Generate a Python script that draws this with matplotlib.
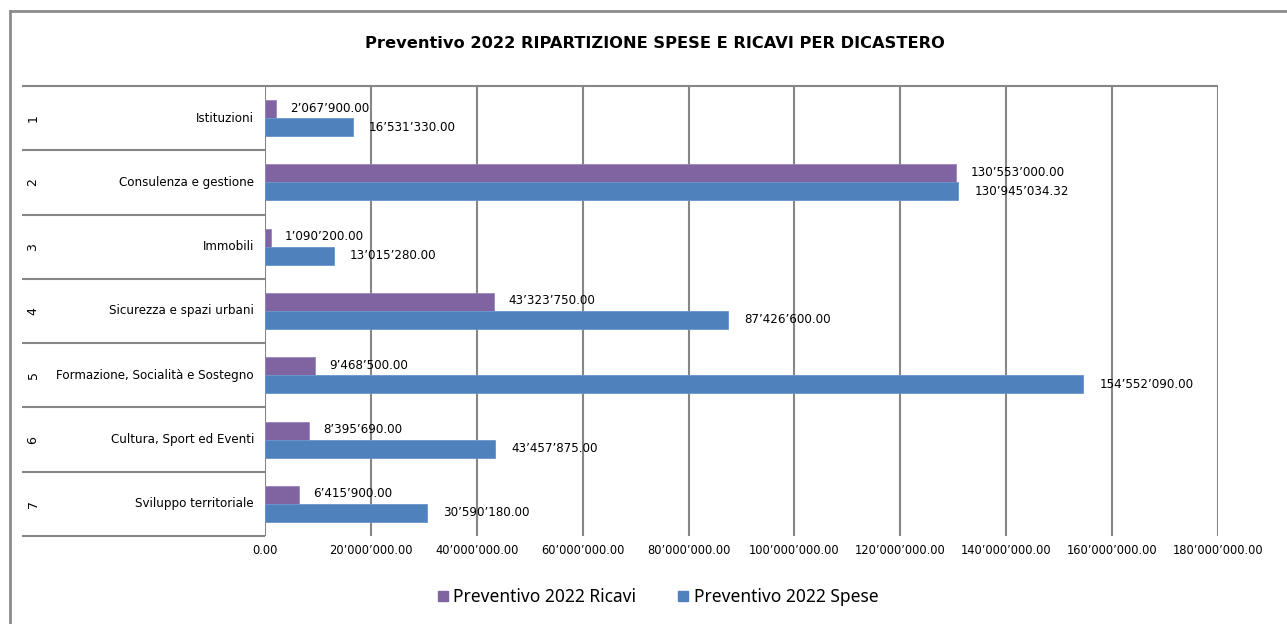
import matplotlib
matplotlib.use("Agg")
import matplotlib.pyplot as plt
from matplotlib.lines import Line2D

# ---------------- data ----------------
numbers = ["1", "2", "3", "4", "5", "6", "7"]
categories = ["Istituzioni", "Consulenza e gestione", "Immobili",
              "Sicurezza e spazi urbani", "Formazione, Socialità e Sostegno",
              "Cultura, Sport ed Eventi", "Sviluppo territoriale"]
ricavi = [2067900.00, 130553000.00, 1090200.00, 43323750.00, 9468500.00,
          8395690.00, 6415900.00]
spese = [16531330.00, 130945034.32, 13015280.00, 87426600.00, 154552090.00,
         43457875.00, 30590180.00]
series_names = ["Preventivo 2022 Ricavi", "Preventivo 2022 Spese"]
xticks = [0, 20e6, 40e6, 60e6, 80e6, 100e6, 120e6, 140e6, 160e6, 180e6]
title = "Preventivo 2022 RIPARTIZIONE SPESE E RICAVI PER DICASTERO"

# ---------------- style ----------------
C_RIC = "#8064A2"
C_SPE = "#4F81BD"
GRID = "#868686"
FONT = ["DejaVu Sans"]
LEGFONT = ["Noto Sans", "DejaVu Sans"]

W, H = 1287, 624
fig = plt.figure(figsize=(W / 100, H / 100), dpi=100)
fig.patch.set_facecolor("white")

def fx(px):
    return px / W

def fy(py):
    return 1 - py / H

L, R, T, B = 265, 1218, 86, 536
ax = fig.add_axes([fx(L), fy(B), fx(R) - fx(L), fy(T) - fy(B)])

def fmt(v):
    return f"{v:,.2f}".replace(",", "\u2019")

n = len(categories)
pos = list(range(n))
h = 0.28
ax.barh([p - h / 2 for p in pos], ricavi, height=h, color=C_RIC,
        edgecolor="#9A86B8", linewidth=0.6, zorder=3)
ax.barh([p + h / 2 for p in pos], spese, height=h, color=C_SPE,
        edgecolor="#6A96CC", linewidth=0.6, zorder=3)

NUMSIZE = 8.6
for p, v in zip(pos, ricavi):
    ax.annotate(fmt(v), (v, p - h / 2), xytext=(14, 1), textcoords="offset pixels",
                ha="left", va="center", fontsize=NUMSIZE, family=FONT, color="black")
for p, v in zip(pos, spese):
    ax.annotate(fmt(v), (v, p + h / 2), xytext=(16, 0), textcoords="offset pixels",
                ha="left", va="center", fontsize=NUMSIZE, family=FONT, color="black")

ax.set_xlim(0, 180e6)
ax.set_ylim(n - 0.5, -0.5)
ax.set_yticks([])
ax.set_xticks(xticks)
ax.set_xticklabels([fmt(t) for t in xticks], fontsize=8.3, family=FONT)
ax.tick_params(axis="x", length=0, pad=6)
for s in ax.spines.values():
    s.set_visible(False)
ax.set_facecolor("none")

for t in xticks:
    ax.axvline(t, color=GRID, linewidth=1.5, zorder=1)

# multi-level category labels area
ytr = ax.get_yaxis_transform()  # x: axes, y: data
axw = R - L
def ax_x(px):
    return (px - L) / axw

for k in range(n + 1):
    y = k - 0.5
    xend = 1.0 if k == 0 else 0.0
    ax.plot([ax_x(22), xend], [y, y], transform=ytr, color=GRID,
            linewidth=1.5, clip_on=False, zorder=2, solid_capstyle="butt")

for p, num, cat in zip(pos, numbers, categories):
    ax.text(ax_x(254), p, cat, transform=ytr, ha="right", va="center",
            fontsize=8.6, family=FONT, color="black")
    ax.text(ax_x(33), p, num, transform=ytr, ha="center", va="center",
            rotation=90, fontsize=9, family=FONT, color="black")

# title
fig.text(fx(655), fy(44), title, ha="center", va="center", fontsize=11.7,
         fontweight="bold", family=FONT, color="black")

# legend
handles = [Line2D([], [], marker="s", linestyle="none", markersize=7,
                  markerfacecolor=C_RIC, markeredgecolor=C_RIC),
           Line2D([], [], marker="s", linestyle="none", markersize=7,
                  markerfacecolor=C_SPE, markeredgecolor=C_SPE)]
fig.legend(handles, series_names, loc="center", bbox_to_anchor=(fx(658), fy(597)),
           ncol=2, frameon=False, prop={"family": LEGFONT, "size": 12.5},
           handlelength=0.6, handletextpad=0.3, columnspacing=2.4)

# outer frame (top + left visible)
fig.add_artist(Line2D([fx(10), 1.0], [fy(11), fy(11)], color="#8C8C8C",
                      linewidth=2, transform=fig.transFigure))
fig.add_artist(Line2D([fx(10), fx(10)], [fy(11), 0.0], color="#8C8C8C",
                      linewidth=2, transform=fig.transFigure))

fig.savefig("out.png", dpi=100)
